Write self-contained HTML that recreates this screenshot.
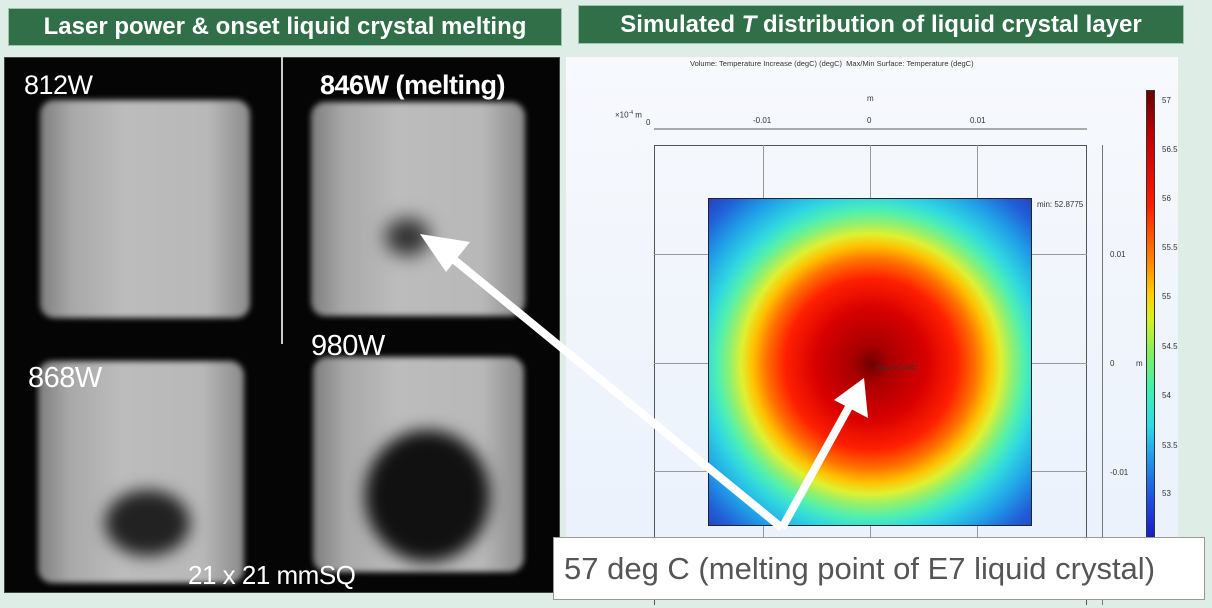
<!DOCTYPE html>
<html><head><meta charset="utf-8"><style>
*{margin:0;padding:0;box-sizing:border-box}
body{width:1212px;height:608px;background:#deede5;position:relative;overflow:hidden;font-family:"Liberation Sans",sans-serif}
.hdr{position:absolute;background:#306f47;color:#fff;font-weight:bold;font-size:24px;white-space:nowrap;display:flex;align-items:center;justify-content:center;border:1px solid #9cc4a8}
.abs{position:absolute}
.sq{position:absolute;border-radius:14px;filter:blur(3px);
background:linear-gradient(90deg,#7d7d7d 0%,#a8a8a8 15%,#bcbcbc 40%,#b8b8b8 80%,#8a8a8a 100%)}
.blob{position:absolute;border-radius:50%;background:#111;filter:blur(8px)}
.lbl{position:absolute;color:#fff;font-size:27px;letter-spacing:-0.5px}
.t{position:absolute;font-size:8px;color:#333;white-space:nowrap}
</style></head><body>
<div class="hdr" style="left:8px;top:8px;width:554px;height:38px">Laser power &amp; onset liquid crystal melting</div>
<div class="hdr" style="left:578px;top:5px;width:606px;height:39px">Simulated&nbsp;<i>T</i>&nbsp;distribution of liquid crystal layer</div>

<div class="abs" style="left:4px;top:57px;width:556px;height:536px;background:#050505;border:1px solid #444"></div>
<div class="abs" style="left:281px;top:57px;width:2px;height:287px;background:#ccc"></div>
<div class="sq" style="left:40px;top:100px;width:210px;height:218px"></div>
<div class="sq" style="left:311px;top:102px;width:214px;height:214px"></div>
<div class="sq" style="left:38px;top:361px;width:206px;height:222px"></div>
<div class="sq" style="left:313px;top:357px;width:211px;height:215px"></div>
<div class="blob" style="left:385px;top:218px;width:45px;height:38px;background:#333;filter:blur(9px)"></div>
<div class="blob" style="left:105px;top:490px;width:85px;height:66px;background:#222"></div>
<div class="blob" style="left:365px;top:430px;width:125px;height:132px"></div>
<div class="lbl" style="left:24px;top:70px">812W</div>
<div class="lbl" style="left:320px;top:70px;font-weight:bold">846W (melting)</div>
<div class="lbl" style="left:28px;top:362px;font-size:29px">868W</div>
<div class="lbl" style="left:311px;top:330px;font-size:29px">980W</div>
<div class="lbl" style="left:188px;top:560px;font-size:26px">21 x 21 mmSQ</div>

<div class="abs" style="left:566px;top:57px;width:612px;height:536px;background:linear-gradient(#f7f9fd,#e9f1fb)"></div>
<div class="t" style="left:690px;top:59px;font-size:7.5px">Volume: Temperature Increase (degC) (degC)&nbsp; Max/Min Surface: Temperature (degC)</div>
<div class="t" style="left:867px;top:94px">m</div>
<div class="t" style="left:615px;top:110px">×10<sup style="font-size:5px">-4</sup> m</div>
<div class="t" style="left:646px;top:118px">0</div>
<div class="t" style="left:753px;top:116px">-0.01</div>
<div class="t" style="left:867px;top:116px">0</div>
<div class="t" style="left:970px;top:116px">0.01</div>
<div class="abs" style="left:654px;top:128px;width:433px;height:2px;background:#aaa"></div>
<div class="abs" style="left:654px;top:145px;width:433px;height:460px;border:1px solid #555;border-bottom:none"></div>
<div class="abs" style="left:763px;top:145px;width:1px;height:400px;background:#999"></div>
<div class="abs" style="left:870px;top:145px;width:1px;height:400px;background:#999"></div>
<div class="abs" style="left:977px;top:145px;width:1px;height:400px;background:#999"></div>
<div class="abs" style="left:654px;top:254px;width:433px;height:1px;background:#999"></div>
<div class="abs" style="left:654px;top:363px;width:433px;height:1px;background:#999"></div>
<div class="abs" style="left:654px;top:471px;width:433px;height:1px;background:#999"></div>
<div class="abs" style="left:1102px;top:145px;width:1px;height:460px;background:#777"></div>
<div class="t" style="left:1110px;top:250px">0.01</div>
<div class="t" style="left:1110px;top:359px">0</div>
<div class="t" style="left:1136px;top:359px">m</div>
<div class="t" style="left:1110px;top:468px">-0.01</div>

<div class="abs" style="left:708px;top:198px;width:324px;height:328px;border:1px solid #223;
background:radial-gradient(circle 232px at 162px 165px,#6e0000 0%,#a80000 8%,#d80000 24%,#ff2000 37%,#ff7000 45%,#ffc000 51%,#e0f030 56%,#90f070 61%,#50f0b0 66%,#30d8e0 72%,#20a0e8 82%,#2060d8 92%,#2840c0 100%)"></div>
<div class="t" style="left:1037px;top:200px">min: 52.8775</div>
<div class="t" style="left:876px;top:365px;font-size:7px">max: 57.0067</div>

<div class="abs" style="left:1146px;top:90px;width:9px;height:455px;border:1px solid #333;
background:linear-gradient(#6a0000 0%,#c00000 10%,#ff1a00 25%,#ff8000 37%,#ffd000 45%,#d8f020 50%,#80f060 58%,#40f0b0 66%,#30d8e8 74%,#2090e8 82%,#2050e0 90%,#1810c0 100%)"></div>
<div class="t" style="left:1162px;top:96px">57</div>
<div class="t" style="left:1162px;top:145px">56.5</div>
<div class="t" style="left:1162px;top:194px">56</div>
<div class="t" style="left:1162px;top:243px">55.5</div>
<div class="t" style="left:1162px;top:292px">55</div>
<div class="t" style="left:1162px;top:342px">54.5</div>
<div class="t" style="left:1162px;top:391px">54</div>
<div class="t" style="left:1162px;top:441px">53.5</div>
<div class="t" style="left:1162px;top:489px">53</div>

<svg class="abs" style="left:0;top:0" width="1212" height="608">
<line x1="782" y1="528" x2="452" y2="258" stroke="#fff" stroke-width="8"/>
<polygon points="420,234 470,242 446,272" fill="#fff"/>
<line x1="782" y1="528" x2="850" y2="405" stroke="#fff" stroke-width="8"/>
<polygon points="864,378 868,418 834,400" fill="#fff"/>
</svg>

<div class="abs" style="left:553px;top:537px;width:652px;height:63px;background:#fff;border:1px solid #999;color:#555;font-size:31px;display:flex;align-items:center;padding-left:10px;white-space:nowrap">57 deg C (melting point of E7 liquid crystal)</div>
</body></html>
